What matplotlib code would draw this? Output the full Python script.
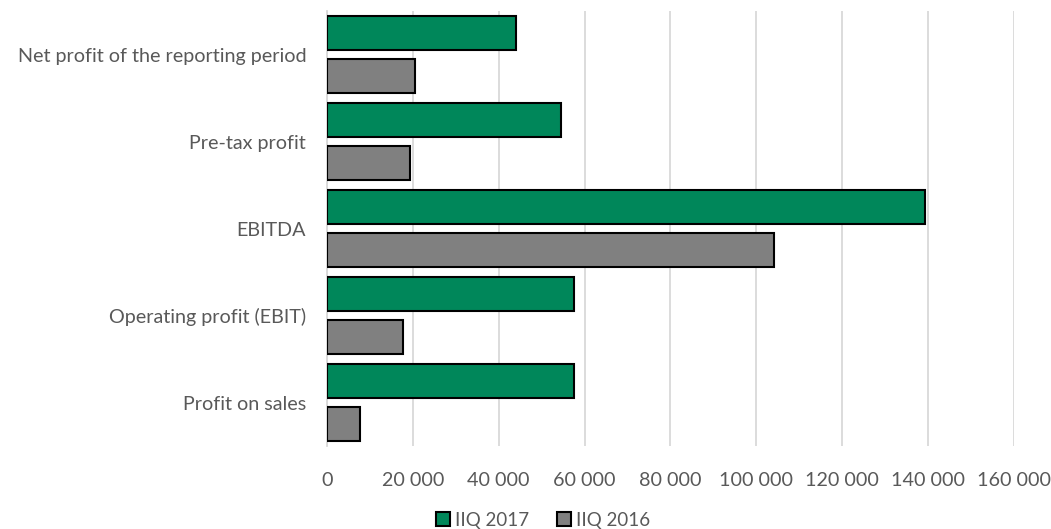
import matplotlib
matplotlib.use('Agg')
import matplotlib.pyplot as plt
from matplotlib.ticker import FuncFormatter
import numpy as np

# categories bottom -> top
categories = ['Profit on sales', 'Operating profit (EBIT)', 'EBITDA',
              'Pre-tax profit', 'Net profit of the reporting period']
q2_2017 = [57600, 57600, 139300, 54500, 44000]
q2_2016 = [7700, 17600, 104000, 19300, 20500]
series_names = ['IIQ 2017', 'IIQ 2016']

plt.rcParams['font.family'] = ['Lato', 'DejaVu Sans']
txt = '#595959'
fs = 14.2

fig = plt.figure(figsize=(10.51, 5.29), dpi=100)
ax = fig.add_axes([0.3111, 0.1569, 0.6537, 0.8223])

y = np.arange(len(categories))
h = 0.39
ax.barh(y + 0.25, q2_2017, height=h, color='#00875a', edgecolor='black',
        linewidth=1.5, label=series_names[0], zorder=3)
ax.barh(y - 0.25, q2_2016, height=h, color='#808080', edgecolor='black',
        linewidth=1.5, label=series_names[1], zorder=3)

ax.set_xlim(0, 160000)
ax.set_ylim(-0.5, len(categories) - 0.5)
ax.set_xticks(np.arange(0, 160001, 20000))
ax.xaxis.set_major_formatter(FuncFormatter(lambda v, p: f'{int(v):,}'.replace(',', ' ')))
ax.set_yticks(y)
ax.set_yticklabels(categories)
ax.grid(axis='x', color='#d9d9d9', linewidth=1.3, zorder=0)
for s in ['top', 'right', 'bottom']:
    ax.spines[s].set_visible(False)
ax.spines['left'].set_color('#d9d9d9')
ax.spines['left'].set_linewidth(1.3)
ax.tick_params(axis='both', length=0, labelsize=fs, colors=txt)
ax.tick_params(axis='x', pad=19)
ax.tick_params(axis='y', pad=15)

leg = fig.legend(loc='center', bbox_to_anchor=(0.517, 0.017), ncol=2, frameon=False,
                 fontsize=13.5, handlelength=0.75, handleheight=0.75, handletextpad=0.25,
                 columnspacing=1.5, labelcolor=txt)

fig.savefig('out.png', dpi=100)
